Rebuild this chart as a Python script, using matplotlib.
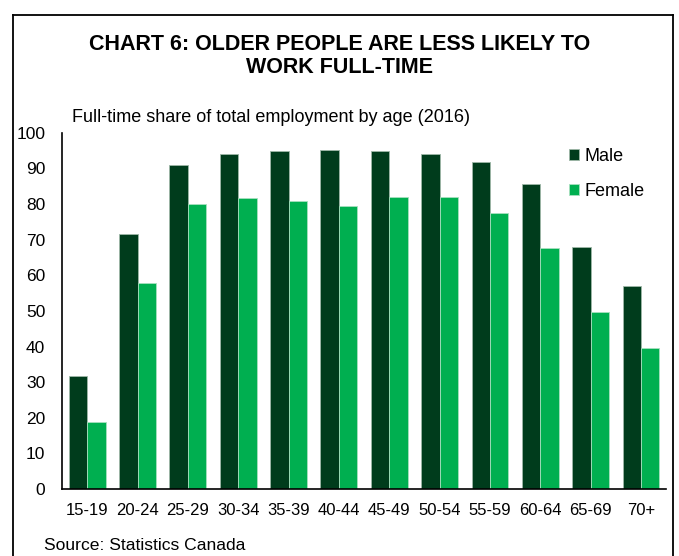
import matplotlib
matplotlib.use("Agg")
import matplotlib.pyplot as plt
import numpy as np
from matplotlib.lines import Line2D

plt.rcParams["font.family"] = ["Liberation Sans", "DejaVu Sans"]

age_groups = ["15-19", "20-24", "25-29", "30-34", "35-39", "40-44",
              "45-49", "50-54", "55-59", "60-64", "65-69", "70+"]
male = [31.7, 71.6, 91.1, 94.2, 94.9, 95.3, 94.9, 94.1, 91.9, 85.6, 68.0, 57.1]
female = [18.7, 57.8, 80.1, 81.8, 80.8, 79.6, 82.0, 82.1, 77.5, 67.7, 49.8, 39.5]
y_ticks = [0, 10, 20, 30, 40, 50, 60, 70, 80, 90, 100]

MALE_COLOR = "#003C1C"
FEMALE_COLOR = "#00AF50"

fig = plt.figure(figsize=(6.79, 5.56), dpi=100)
ax = fig.add_axes([0.0913, 0.1205, 0.8897, 0.6405])

x = np.arange(len(age_groups))
w = 0.365
ax.bar(x - w / 2, male, w, color=MALE_COLOR, edgecolor="#9fb8a8", linewidth=0.6, label="Male")
ax.bar(x + w / 2, female, w, color=FEMALE_COLOR, edgecolor="#a8e0bf", linewidth=0.6, label="Female")

ax.set_xlim(-0.5, len(age_groups) - 0.5)
ax.set_ylim(0, 100)
ax.set_yticks(y_ticks)
ax.set_xticks(x)
ax.set_xticklabels(age_groups)
ax.tick_params(axis="both", length=0, colors="black")
ax.tick_params(axis="y", pad=12, labelsize=12.5)
ax.tick_params(axis="x", pad=10, labelsize=12)
for side in ["top", "right"]:
    ax.spines[side].set_visible(False)
ax.spines["left"].set_linewidth(1.2)
ax.spines["bottom"].set_linewidth(1.2)

leg = ax.legend(loc="upper right", bbox_to_anchor=(0.992, 1.003), frameon=False,
                fontsize=13, handlelength=0.6, handleheight=0.6,
                handletextpad=0.3, labelspacing=1.0)

fig.text(0.5, 0.899, "CHART 6: OLDER PEOPLE ARE LESS LIKELY TO\nWORK FULL-TIME",
         ha="center", va="center", fontsize=15.5, fontweight="bold", linespacing=1.1)
fig.text(0.106, 0.789, "Full-time share of total employment by age (2016)",
         ha="left", va="center", fontsize=13)
fig.text(0.065, 0.019, "Source: Statistics Canada", ha="left", va="center", fontsize=12.6)

# outer frame (bottom edge runs off the image)
frame_l, frame_r, frame_t = 13 / 679, 673 / 679, 1 - 15 / 556
for xs, ys in [([frame_l, frame_l], [-0.01, frame_t]),
               ([frame_l, frame_r], [frame_t, frame_t]),
               ([frame_r, frame_r], [frame_t, -0.01])]:
    fig.add_artist(Line2D(xs, ys, transform=fig.transFigure, color="black", linewidth=1.3))

fig.savefig("out.png", dpi=100)
plt.close(fig)
